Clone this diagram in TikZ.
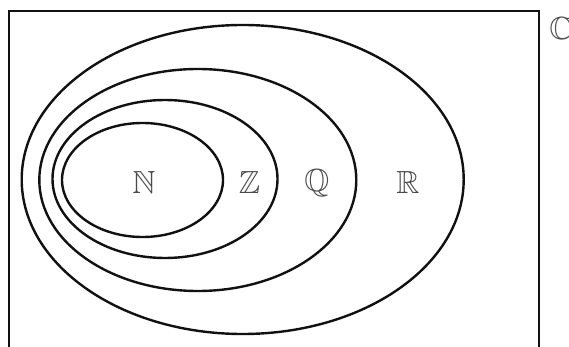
\documentclass[tikz,border=0pt]{standalone}
\usepackage{amssymb}
\usepackage{xcolor}
\usepackage{tikz}
\usetikzlibrary{shapes.geometric}
\definecolor{ink}{HTML}{111111}
\definecolor{muted}{HTML}{4A4A4A}
\newcommand{\bbletter}[1]{{\usefont{U}{msb}{m}{n}#1}}
\newcommand{\setN}{\bbletter{N}}
\newcommand{\setZ}{\bbletter{Z}}
\newcommand{\setQ}{\bbletter{Q}}
\newcommand{\setR}{\bbletter{R}}
\newcommand{\setC}{\bbletter{C}}

\begin{document}
\begin{tikzpicture}[
  x=1pt,y=-1pt,
  set/.style={ellipse,draw=ink,line width=2.4pt,inner sep=0pt},
  frame/.style={draw=ink,line width=2.8pt},
  lbl/.style={color=muted,inner sep=0pt,font=\fontsize{32}{38}\selectfont}
]
\useasboundingbox (0,0) rectangle (569,347);
\draw[frame] (9,11) rectangle (539,380);
\node[set,minimum width=442pt,minimum height=309pt] (rr) at (242.7,179.5) {};
\node[set,minimum width=317pt,minimum height=222pt] (qq) at (197.8,180) {};
\node[set,minimum width=225pt,minimum height=158pt] (zz) at (165,179) {};
\node[set,minimum width=161pt,minimum height=114pt] (nn) at (142.5,180) {};
\node[lbl] (n) at (144,182) {\setN};
\node[lbl] (z) at (249.6,182) {\setZ};
\node[lbl] (q) at (316.8,183) {\setQ};
\node[lbl] (r) at (408,182) {\setR};
\node[lbl] (c) at (561,28) {\setC};
\end{tikzpicture}
\end{document}
